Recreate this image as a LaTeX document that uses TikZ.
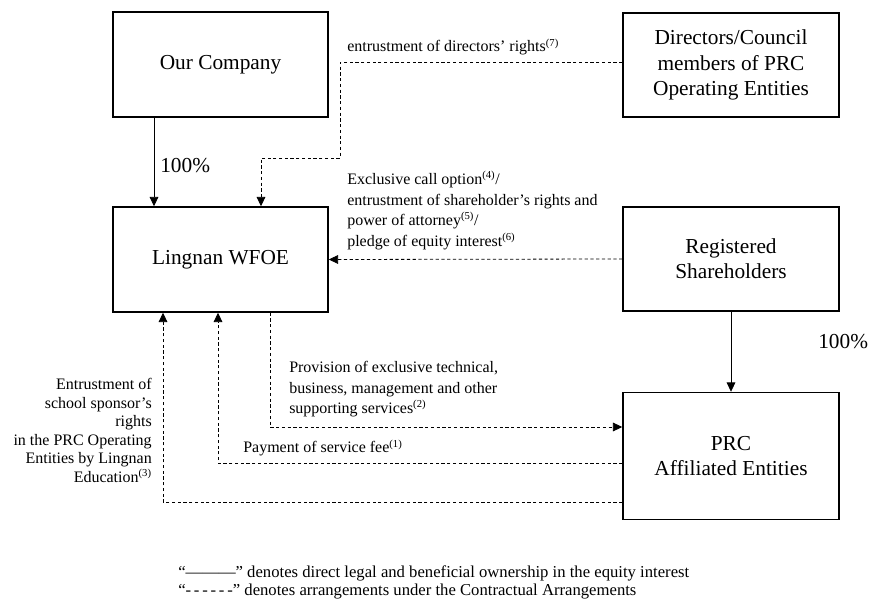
\documentclass[tikz,border=0pt]{standalone}
\usepackage{fontspec}
\setmainfont{Liberation Serif}
\usetikzlibrary{arrows.meta}
\begin{document}
\begin{tikzpicture}[x=0.75pt,y=-0.75pt,
    entity/.style={draw,line width=1.1pt,align=center,font=\fontsize{16}{19}\selectfont,
      minimum width=161.25pt,minimum height=78.75pt,inner sep=0pt},
    wideentity/.style={entity,minimum width=162pt,minimum height=78pt},
    own/.style={line width=0.6pt,-{Triangle[length=7pt,width=6.5pt]}},
    deal/.style={line width=0.6pt,dash pattern=on 2.4pt off 1.9pt,-{Triangle[length=7pt,width=6.5pt]}},
    deallabel/.style={inner sep=0pt,font=\fontsize{12}{15.4}\selectfont},
    pct/.style={inner sep=0pt,anchor=west,font=\fontsize{16}{19}\selectfont}]
  \useasboundingbox (0,0) rectangle (873,605);
  \node[entity] (ourco) at (220.5,64.5) {Our Company};
  \node[entity] (wfoe) at (220.5,259.5) {Lingnan WFOE};
  \node[wideentity] (dir) at (731,65) {Directors/Council\\members of PRC\\Operating Entities};
  \node[wideentity] (reg) at (731,259) {Registered\\Shareholders};
  \node[wideentity,minimum height=95.25pt] (prc) at (731,456) {PRC\\Affiliated Entities};
  \coordinate (xa) at (154,0);
  \coordinate (xb) at (261,0);
  \coordinate (xc) at (270,0);
  \coordinate (xd) at (218,0);
  \coordinate (xe) at (163,0);
  \coordinate (bend) at (340,158);
  \begin{scope}
    \draw[own] (ourco.south -| xa) to (wfoe.north -| xa);
    \draw[own] (reg.south) to (prc.north);
    \draw[deal] ([yshift=2pt]dir.west) -| (bend) -| (wfoe.north -| xb);
    \draw[deal] (reg.west) to (wfoe.east);
    \draw[deal] (wfoe.south -| xc) |- ([yshift=21.75pt]prc.west);
    \draw[deal] ([yshift=-5.25pt]prc.west) -| (wfoe.south -| xd);
    \draw[deal] ([yshift=-34.5pt]prc.west) -| (wfoe.south -| xe);
  \end{scope}
  \node[pct] (pcta) at (160,166) {100\%};
  \node[pct] (pctb) at (818,342) {100\%};
  \node[deallabel,anchor=base west] (ldir) at (347,52)
    {entrustment of directors’ rights\textsuperscript{(7)}};
  \node[deallabel,anchor=north west,align=left] (lreg) at (347,171)
    {Exclusive call option\textsuperscript{(4)}/\\
     entrustment of shareholder’s rights and\\
     power of attorney\textsuperscript{(5)}/\\
     pledge of equity interest\textsuperscript{(6)}};
  \node[deallabel,anchor=north west,align=left] (lsvc) at (289,361)
    {Provision of exclusive technical,\\
     business, management and other\\
     supporting services\textsuperscript{(2)}};
  \node[deallabel,anchor=west] (lfee) at (243,448) {Payment of service fee\textsuperscript{(1)}};
  \node[deallabel,anchor=north east,align=right,font=\fontsize{12}{13.9}\selectfont] (lsch) at (152,378)
    {Entrustment of\\school sponsor’s\\rights\\in the PRC Operating\\Entities by Lingnan\\Education\textsuperscript{(3)}};
  \node[deallabel,anchor=west,font=\fontsize{12.5}{15}\selectfont] (keya) at (178,573)
    {“———” denotes direct legal and beneficial ownership in the equity interest};
  \node[deallabel,anchor=west,font=\fontsize{12.5}{15}\selectfont] (keyb) at (178,592)
    {“-\,-\,-\,-\,-\,-” denotes arrangements under the Contractual Arrangements};
\end{tikzpicture}
\end{document}
